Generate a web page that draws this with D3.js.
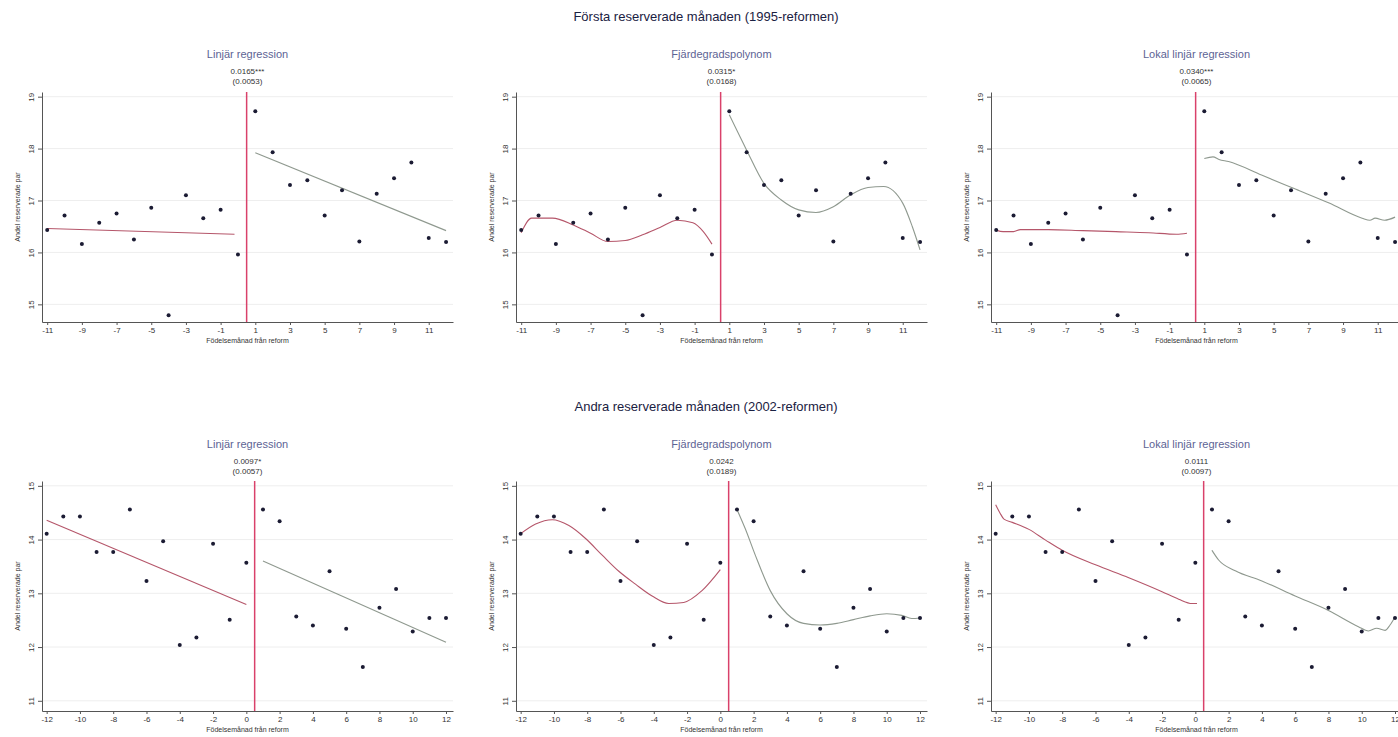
<!DOCTYPE html>
<html>
<head>
<meta charset="utf-8">
<script src="https://cdn.jsdelivr.net/npm/d3@7"></script>
<style>
  body { margin: 0; background: #fff; }
  svg { font-family: "Liberation Sans", Arial, sans-serif; }
  .axis path, .axis line { stroke: #555; }
  .axis text { fill: #333; font-size: 8px; }
</style>
</head>
<body>
<svg width="1398" height="737"></svg>
<script>
// data: share of reserved pairs by birth month relative to reform
const monthsTop = [-11, -10, -9, -8, -7, -6, -5, -4, -3, -2, -1, 0, 1, 2, 3, 4, 5, 6, 7, 8, 9, 10, 11, 12];
const shareTop = [16.43, 16.71, 16.16, 16.57, 16.75, 16.25, 16.86, 14.79, 17.10, 16.66, 16.82, 15.96,
                  18.72, 17.93, 17.30, 17.39, 16.71, 17.20, 16.21, 17.13, 17.43, 17.73, 16.28, 16.20];
const monthsBot = [-12, -11, -10, -9, -8, -7, -6, -5, -4, -3, -2, -1, 0, 1, 2, 3, 4, 5, 6, 7, 8, 9, 10, 11, 12];
const shareBot = [14.11, 14.43, 14.43, 13.77, 13.77, 14.56, 13.23, 13.97, 12.04, 12.18, 13.92, 12.51, 13.57,
                  14.56, 14.34, 12.57, 12.40, 13.41, 12.34, 11.63, 12.73, 13.08, 12.29, 12.54, 12.54];

const ticksXTop = [-11, -9, -7, -5, -3, -1, 1, 3, 5, 7, 9, 11];
const ticksYTop = [15, 16, 17, 18, 19];
const ticksXBot = [-12, -10, -8, -6, -4, -2, 0, 2, 4, 6, 8, 10, 12];
const ticksYBot = [11, 12, 13, 14, 15];

const methods = ["Linjär regression", "Fjärdegradspolynom", "Lokal linjär regression"];
const estTop = ["0.0165***", "0.0315*", "0.0340***"];
const seTop = ["(0.0053)", "(0.0168)", "(0.0065)"];
const estBot = ["0.0097*", "0.0242", "0.0111"];
const seBot = ["(0.0057)", "(0.0189)", "(0.0097)"];

// fitted curves, [month, share]
const fitTopLinL = [[-11, 16.46], [-0.2, 16.35]];
const fitTopLinR = [[1, 17.92], [12, 16.42]];
const fitTopPolL = [[-11, 16.38], [-10.4, 16.66], [-9.2, 16.66], [-8, 16.53], [-7, 16.37], [-6, 16.21], [-5, 16.23],
                    [-4, 16.34], [-3, 16.48], [-2, 16.62], [-1.1, 16.57], [-0.5, 16.40], [0, 16.16]];
const fitTopPolR = [[1, 18.65], [2, 17.97], [3, 17.33], [4, 17.01], [5, 16.82], [6, 16.77], [7, 16.88], [8, 17.11],
                    [9, 17.25], [9.9, 17.27], [11, 16.95], [11.55, 16.50], [12, 16.05]];
const fitTopLocL = [[-11, 16.43], [-10.6, 16.40], [-10, 16.40], [-9.6, 16.44], [-8, 16.44], [-6, 16.42], [-4.1, 16.40],
                    [-2.2, 16.38], [-0.6, 16.35], [0, 16.37]];
const fitTopLocR = [[1, 17.81], [1.5, 17.84], [1.85, 17.79], [2.4, 17.75], [4.3, 17.49], [6.25, 17.22], [8.2, 16.95],
                    [10.1, 16.66], [10.55, 16.62], [10.85, 16.66], [11.4, 16.62], [12, 16.68]];

const fitBotLinL = [[-12, 14.36], [0, 12.79]];
const fitBotLinR = [[1, 13.60], [12, 12.09]];
const fitBotPolL = [[-12, 14.11], [-11.1, 14.29], [-10.1, 14.37], [-9.1, 14.26], [-8.1, 14.02], [-7.1, 13.71], [-6.1, 13.41],
                    [-5.1, 13.17], [-4.1, 12.95], [-3.1, 12.81], [-2.2, 12.83], [-1.1, 13.05], [0, 13.44]];
const fitBotPolR = [[1, 14.56], [1.5, 14.20], [2.1, 13.71], [3, 13.05], [4, 12.62], [5, 12.44], [6, 12.41], [7, 12.44],
                    [8, 12.51], [9, 12.58], [10, 12.62], [10.9, 12.59], [11.5, 12.53], [12, 12.54]];
const fitBotLocL = [[-12, 14.65], [-11.75, 14.50], [-11.5, 14.38], [-11, 14.32], [-10, 14.19], [-9, 13.99], [-8, 13.80],
                    [-6, 13.53], [-4, 13.29], [-2, 13.03], [-1, 12.89], [-0.2, 12.81], [0.1, 12.81]];
const fitBotLocR = [[1, 13.80], [1.4, 13.62], [2.4, 13.42], [4, 13.23], [6, 12.95], [8, 12.68], [9.8, 12.38], [10.4, 12.30],
                    [10.9, 12.35], [11.4, 12.31], [11.7, 12.41], [12, 12.56]];

const svg = d3.select("svg");
const panelLeft = [42, 516, 991];
const plotW = 411;

const rows = [
  {
    title: "Första reserverade månaden (1995-reformen)", titleY: 21,
    top: 92, bottom: 322, xDom: [-11.3, 12.4], yDom: [14.66, 19.09],
    months: monthsTop, share: shareTop, ticksX: ticksXTop, ticksY: ticksYTop,
    est: estTop, se: seTop, subY: 58,
    fits: [[fitTopLinL, fitTopLinR], [fitTopPolL, fitTopPolR], [fitTopLocL, fitTopLocR]]
  },
  {
    title: "Andra reserverade månaden (2002-reformen)", titleY: 411,
    top: 481, bottom: 711, xDom: [-12.28, 12.42], yDom: [10.81, 15.09],
    months: monthsBot, share: shareBot, ticksX: ticksXBot, ticksY: ticksYBot,
    est: estBot, se: seBot, subY: 448,
    fits: [[fitBotLinL, fitBotLinR], [fitBotPolL, fitBotPolR], [fitBotLocL, fitBotLocR]]
  }
];

rows.forEach(function(row) {
  svg.append("text")
    .attr("x", 706).attr("y", row.titleY)
    .attr("text-anchor", "middle")
    .attr("font-size", "13px")
    .attr("fill", "#1a2142")
    .text(row.title);

  methods.forEach(function(m, i) {
    const left = panelLeft[i];
    const x = d3.scaleLinear().domain(row.xDom).range([left, left + plotW]);
    const y = d3.scaleLinear().domain(row.yDom).range([row.bottom, row.top]);
    const cx = left + plotW / 2;

    const g = svg.append("g");

    // faint grid
    g.selectAll(".grid").data(row.ticksY).enter().append("line")
      .attr("x1", left).attr("x2", left + plotW)
      .attr("y1", d => y(d)).attr("y2", d => y(d))
      .attr("stroke", "#eeeeee");

    // panel title and estimates
    g.append("text").attr("x", cx).attr("y", row.subY)
      .attr("text-anchor", "middle").attr("font-size", "11px").attr("fill", "#5d6394")
      .text(m);
    g.append("text").attr("x", cx).attr("y", row.subY + 16)
      .attr("text-anchor", "middle").attr("font-size", "8px").attr("fill", "#333")
      .text(row.est[i]);
    g.append("text").attr("x", cx).attr("y", row.subY + 26)
      .attr("text-anchor", "middle").attr("font-size", "8px").attr("fill", "#333")
      .text(row.se[i]);

    // axes
    g.append("g").attr("class", "axis")
      .attr("transform", "translate(0," + row.bottom + ")")
      .call(d3.axisBottom(x).tickValues(row.ticksX).tickFormat(d => String(d))
        .tickSize(3).tickSizeOuter(0).tickPadding(2));

    const ya = g.append("g").attr("class", "axis")
      .attr("transform", "translate(" + left + ",0)")
      .call(d3.axisLeft(y).tickValues(row.ticksY).tickFormat(d => String(d)).tickSize(4).tickSizeOuter(0));
    ya.selectAll(".tick text")
      .attr("x", -8).attr("y", 0).attr("dy", 0)
      .attr("transform", "rotate(-90,-8,0)")
      .attr("text-anchor", "middle");

    g.append("text")
      .attr("transform", "translate(" + (left - 22) + "," + ((row.top + row.bottom) / 2) + ") rotate(-90)")
      .attr("text-anchor", "middle").attr("font-size", "7px").attr("fill", "#333")
      .text("Andel reserverade par");

    g.append("text").attr("x", cx).attr("y", row.bottom + 21)
      .attr("text-anchor", "middle").attr("font-size", "7px").attr("fill", "#333")
      .text("Födelsemånad från reform");

    // cutoff
    g.append("line")
      .attr("x1", x(0.5)).attr("x2", x(0.5))
      .attr("y1", row.top).attr("y2", row.bottom)
      .attr("stroke", "#d9416a").attr("stroke-width", 1.5);

    // fitted lines
    const line = d3.line().x(d => x(d[0])).y(d => y(d[1])).curve(d3.curveMonotoneX);
    g.append("path").datum(row.fits[i][0]).attr("d", line)
      .attr("fill", "none").attr("stroke", "#b5566a").attr("stroke-width", 1.1);
    g.append("path").datum(row.fits[i][1]).attr("d", line)
      .attr("fill", "none").attr("stroke", "#8f998f").attr("stroke-width", 1.1);

    // points
    g.selectAll(".pt").data(row.months).enter().append("circle")
      .attr("cx", d => x(d))
      .attr("cy", (d, k) => y(row.share[k]))
      .attr("r", 2)
      .attr("fill", "#1b1b33");
  });
});
</script>
</body>
</html>
